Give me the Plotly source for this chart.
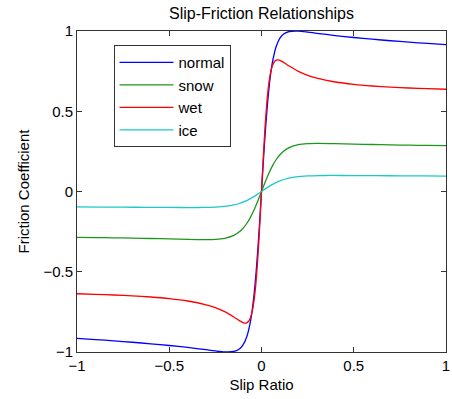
import plotly.graph_objects as go

title = "Slip-Friction Relationships"
x_label = "Slip Ratio"
y_label = "Friction Coefficient"
tick_vals = [-1, -0.5, 0, 0.5, 1]

x_normal = [-1, -0.9, -0.8, -0.7, -0.6, -0.5, -0.4, -0.3, -0.25, -0.2, -0.15, -0.12, -0.1, -0.08, -0.06, -0.05, -0.04, -0.03, -0.02, -0.01,
            0, 0.01, 0.02, 0.03, 0.04, 0.05, 0.06, 0.08, 0.1, 0.12, 0.15, 0.2, 0.25, 0.3, 0.4, 0.5, 0.6, 0.7, 0.8, 0.9, 1]
y_normal = [-0.9145, -0.9223, -0.9305, -0.9393, -0.9488, -0.9594, -0.9716, -0.9858, -0.9932, -0.9992, -0.9968, -0.9814, -0.9560, -0.9055, -0.8100, -0.7355, -0.6380, -0.5134, -0.3620, -0.1877,
            0, 0.1877, 0.3620, 0.5134, 0.6380, 0.7355, 0.8100, 0.9055, 0.9560, 0.9814, 0.9968, 0.9992, 0.9932, 0.9858, 0.9716, 0.9594, 0.9488, 0.9393, 0.9305, 0.9223, 0.9145]

x_snow = [-1, -0.9, -0.8, -0.7, -0.6, -0.5, -0.4, -0.3, -0.25, -0.2, -0.15, -0.12, -0.1, -0.08, -0.06, -0.04, -0.02,
          0, 0.02, 0.04, 0.06, 0.08, 0.1, 0.12, 0.15, 0.2, 0.25, 0.3, 0.4, 0.5, 0.6, 0.7, 0.8, 0.9, 1]
y_snow = [-0.2855, -0.2868, -0.2885, -0.2904, -0.2927, -0.2955, -0.2985, -0.2999, -0.2982, -0.2914, -0.2730, -0.2510, -0.2289, -0.1994, -0.1612, -0.1140, -0.0592,
          0, 0.0592, 0.1140, 0.1612, 0.1994, 0.2289, 0.2510, 0.2730, 0.2914, 0.2982, 0.2999, 0.2985, 0.2955, 0.2927, 0.2904, 0.2885, 0.2868, 0.2855]

x_wet = [-1, -0.9, -0.8, -0.7, -0.6, -0.5, -0.4, -0.3, -0.25, -0.2, -0.15, -0.12, -0.1, -0.09, -0.08, -0.07, -0.06, -0.05, -0.04, -0.03, -0.02, -0.01,
         0, 0.01, 0.02, 0.03, 0.04, 0.05, 0.06, 0.07, 0.08, 0.09, 0.1, 0.12, 0.15, 0.2, 0.25, 0.3, 0.4, 0.5, 0.6, 0.7, 0.8, 0.9, 1]
y_wet = [-0.6371, -0.6405, -0.6448, -0.6502, -0.6574, -0.6675, -0.6822, -0.7059, -0.7238, -0.7483, -0.7818, -0.8047, -0.8171, -0.8199, -0.8181, -0.8085, -0.7863, -0.7450, -0.6754, -0.5680, -0.4160, -0.2214,
         0, 0.2214, 0.4160, 0.5680, 0.6754, 0.7450, 0.7863, 0.8085, 0.8181, 0.8199, 0.8171, 0.8047, 0.7818, 0.7483, 0.7238, 0.7059, 0.6822, 0.6675, 0.6574, 0.6502, 0.6448, 0.6405, 0.6371]

x_ice = [-1, -0.875, -0.75, -0.625, -0.5, -0.375, -0.3125, -0.25, -0.1875, -0.15, -0.125, -0.1, -0.075, -0.05, -0.025,
         0, 0.025, 0.05, 0.075, 0.1, 0.125, 0.15, 0.1875, 0.25, 0.3125, 0.375, 0.5, 0.625, 0.75, 0.875, 1]
y_ice = [-0.0962, -0.0968, -0.0976, -0.0985, -0.0995, -0.1000, -0.0994, -0.0971, -0.0910, -0.0837, -0.0763, -0.0665, -0.0537, -0.0380, -0.0197,
         0, 0.0197, 0.0380, 0.0537, 0.0665, 0.0763, 0.0837, 0.0910, 0.0971, 0.0994, 0.1000, 0.0995, 0.0985, 0.0976, 0.0968, 0.0962]

series = [
    ("normal", x_normal, y_normal, "#0000ff"),
    ("snow", x_snow, y_snow, "#1e961e"),
    ("wet", x_wet, y_wet, "#ff0000"),
    ("ice", x_ice, y_ice, "#1ec8c8"),
]

FONT = "Liberation Sans, Arial"

fig = go.Figure()
for name, xs, ys, col in series:
    fig.add_trace(go.Scatter(x=xs, y=ys, name=name, mode="lines",
                             line=dict(color=col, width=1.3, shape="spline", smoothing=0.6)))

axis_common = dict(
    range=[-1, 1], tickvals=tick_vals, ticks="inside", ticklen=5, tickcolor="#333",
    showline=True, linecolor="#333", linewidth=1, mirror="ticks",
    showgrid=False, zeroline=False, ticklabeloverflow="allow",
    tickfont=dict(family=FONT, size=15, color="black"),
)

fig.update_xaxes(**axis_common, title=dict(text=x_label, font=dict(family=FONT, size=15, color="black"), standoff=6))
fig.update_yaxes(**axis_common, title=dict(text=y_label, font=dict(family=FONT, size=15, color="black"), standoff=10))

fig.update_layout(
    width=452, height=399,
    margin=dict(l=77, r=2, t=31, b=47),
    paper_bgcolor="white", plot_bgcolor="white",
    title=dict(text=title, xref="paper", x=0.5, xanchor="center", y=0.967, yanchor="middle",
               font=dict(family=FONT, size=16, color="black")),
    legend=dict(x=0.099, y=0.956, xanchor="left", yanchor="top",
                bgcolor="white", bordercolor="#333", borderwidth=1,
                font=dict(family=FONT, size=15, color="black"),
                itemwidth=54, entrywidth=70),
    showlegend=True,
)

fig.write_html("out.html", config={"displayModeBar": False},
               post_script="document.body.style.margin='0';document.body.style.overflow='hidden';")
